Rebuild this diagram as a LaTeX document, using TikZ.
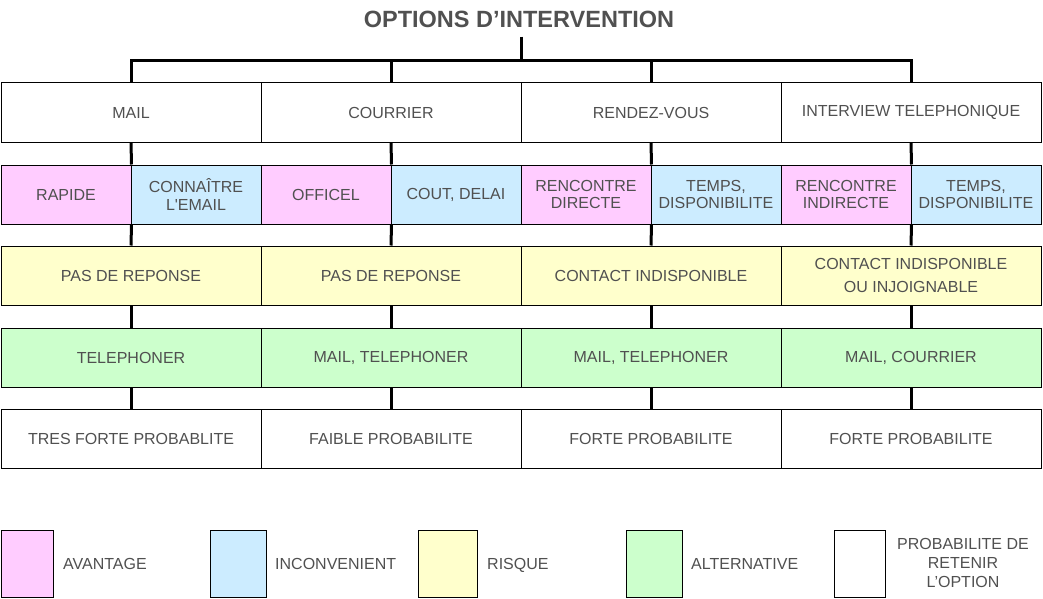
\documentclass[tikz,border=0pt]{standalone}
\usepackage{fontspec}
\setmainfont{Liberation Sans}
\definecolor{txt}{HTML}{505050}
\definecolor{cpink}{HTML}{FFCCFF}
\definecolor{cblue}{HTML}{CCECFF}
\definecolor{cyellow}{HTML}{FFFFCC}
\definecolor{cgreen}{HTML}{CCFFCC}
\begin{document}
\begin{tikzpicture}[x=1pt,y=-1pt,
  box/.style={draw=black, line width=1pt, minimum width=260pt, minimum height=59pt, inner sep=0pt,
    align=center, text=txt, font=\fontsize{16}{17.5}\selectfont},
  half/.style={box, minimum width=130pt},
  lbox/.style={draw=black, line width=1pt, minimum height=67pt, inner sep=0pt},
  ltext/.style={anchor=base west, inner sep=0pt, text=txt, font=\fontsize{16}{19}\selectfont, align=center},
  conn/.style={draw=black, line width=3pt}]
\useasboundingbox (0,0) rectangle (1043,599);
% title
\node[text=txt, font=\bfseries\fontsize{23.5}{26}\selectfont, inner sep=0pt] (title) at (519,19) {OPTIONS D’INTERVENTION};
\coordinate (hub) at (521,61);
% row 1
\node[box] (r1a) at (131,112.5) {MAIL};
\node[box] (r1b) at (391,112.5) {COURRIER};
\node[box] (r1c) at (651,112.5) {RENDEZ-VOUS};
\node[box] (r1d) at (911,112.5) {INTERVIEW TELEPHONIQUE};
% row 2
\node[half, fill=cpink] (r2a) at (66,194.5) {RAPIDE};
\node[half, fill=cblue] (r2b) at (196,194.5) {CONNAÎTRE\\L\textquotesingle EMAIL};
\node[half, fill=cpink] (r2c) at (326,194.5) {OFFICEL};
\node[half, fill=cblue] (r2d) at (456,194.5) {COUT, DELAI};
\node[half, fill=cpink] (r2e) at (586,194.5) {RENCONTRE\\DIRECTE};
\node[half, fill=cblue] (r2f) at (716,194.5) {TEMPS,\\DISPONIBILITE};
\node[half, fill=cpink] (r2g) at (846,194.5) {RENCONTRE\\INDIRECTE};
\node[half, fill=cblue] (r2h) at (976,194.5) {TEMPS,\\DISPONIBILITE};
% row 3
\node[box, fill=cyellow] (r3a) at (131,275.5) {PAS DE REPONSE};
\node[box, fill=cyellow] (r3b) at (391,275.5) {PAS DE REPONSE};
\node[box, fill=cyellow] (r3c) at (651,275.5) {CONTACT INDISPONIBLE};
\node[box, fill=cyellow, font=\fontsize{16}{23}\selectfont] (r3d) at (911,275.5) {CONTACT INDISPONIBLE\\OU INJOIGNABLE};
% row 4
\node[box, fill=cgreen] (r4a) at (131,357.5) {TELEPHONER};
\node[box, fill=cgreen] (r4b) at (391,357.5) {MAIL, TELEPHONER};
\node[box, fill=cgreen] (r4c) at (651,357.5) {MAIL, TELEPHONER};
\node[box, fill=cgreen] (r4d) at (911,357.5) {MAIL, COURRIER};
% row 5
\node[box] (r5a) at (131,438.5) {TRES FORTE PROBABLITE};
\node[box] (r5b) at (391,438.5) {FAIBLE PROBABILITE};
\node[box] (r5c) at (651,438.5) {FORTE PROBABILITE};
\node[box] (r5d) at (911,438.5) {FORTE PROBABILITE};
% connectors
\draw[conn, shorten <=9pt] (title.south -| hub) -- (hub);
\draw[conn] (hub) -| (r1a.north);
\draw[conn] (hub) -| (r1b.north);
\draw[conn] (hub) -| (r1c.north);
\draw[conn] (hub) -| (r1d.north);
\draw[conn] (r1a.south) -- (r2a.north east);
\draw[conn] (r1b.south) -- (r2c.north east);
\draw[conn] (r1c.south) -- (r2e.north east);
\draw[conn] (r1d.south) -- (r2g.north east);
\draw[conn] (r2a.south east) -- (r3a.north);
\draw[conn] (r2c.south east) -- (r3b.north);
\draw[conn] (r2e.south east) -- (r3c.north);
\draw[conn] (r2g.south east) -- (r3d.north);
\draw[conn] (r3a.south) -- (r4a.north);
\draw[conn] (r3b.south) -- (r4b.north);
\draw[conn] (r3c.south) -- (r4c.north);
\draw[conn] (r3d.south) -- (r4d.north);
\draw[conn] (r4a.south) -- (r5a.north);
\draw[conn] (r4b.south) -- (r5b.north);
\draw[conn] (r4c.south) -- (r5c.north);
\draw[conn] (r4d.south) -- (r5d.north);
% legend
\node[lbox, fill=cpink, minimum width=52pt] (l1) at (27,563.5) {};
\node[lbox, fill=cblue, minimum width=56pt] (l2) at (238,563.5) {};
\node[lbox, fill=cyellow, minimum width=59pt] (l3) at (447.5,563.5) {};
\node[lbox, fill=cgreen, minimum width=56pt] (l4) at (654,563.5) {};
\node[lbox, minimum width=51pt] (l5) at (859.5,563.5) {};
\node[ltext] (t1) at (63,569) {AVANTAGE};
\node[ltext] (t2) at (275,569) {INCONVENIENT};
\node[ltext] (t3) at (487,569) {RISQUE};
\node[ltext] (t4) at (691,569) {ALTERNATIVE};
\node[ltext, anchor=center] (t5) at (963,563) {PROBABILITE DE\\RETENIR\\L’OPTION};
\end{tikzpicture}
\end{document}
